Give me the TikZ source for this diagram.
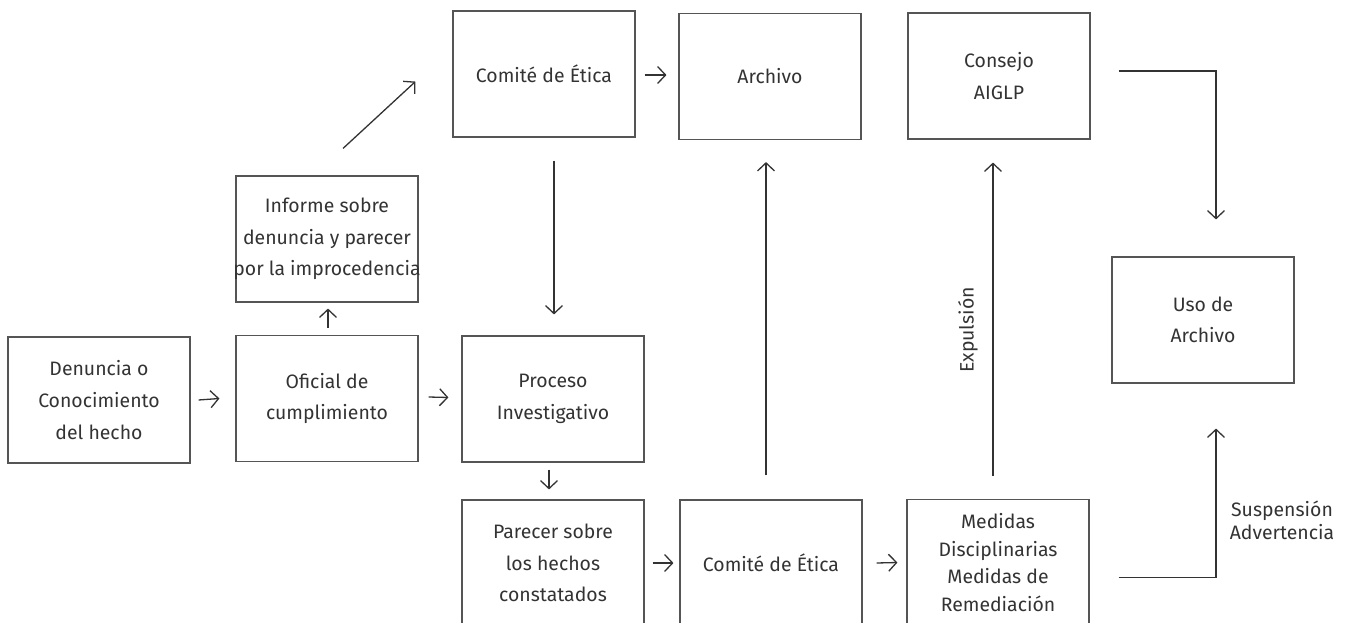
\documentclass[tikz,border=0pt]{standalone}
\usepackage{fontspec}
\setmainfont{Fira Sans}
\usetikzlibrary{arrows.meta}
\definecolor{ink}{HTML}{333333}
\definecolor{edgegray}{HTML}{555555}
\begin{document}
\begin{tikzpicture}[x=1bp,y=-1bp,
  box/.style={draw=edgegray, line width=1.1bp, minimum width=182bp, minimum height=126bp,
    inner sep=0pt, align=center, text=ink, font=\fontsize{19.5}{31.7}\selectfont},
  arr/.style={draw=ink, line width=1.3bp, -{Straight Barb[length=8bp,width=17bp]}},
  lbl/.style={text=ink, align=center, font=\fontsize{19.5}{23}\selectfont, inner sep=0pt}]
\useasboundingbox (0,0) rectangle (1349,623);
% nodes
\node[box] (den) at (99,400) {Denuncia o\\Conocimiento\\del hecho};
\node[box] (ofi) at (327,398.5) {Oficial de\\cumplimiento};
\node[box] (inf) at (327,239) {Informe sobre\\denuncia y parecer\\\makebox[176bp]{por la improcedencia}};
\node[box] (pro) at (553,399) {Proceso\\Investigativo};
\node[box] (par) at (553,563) {Parecer sobre\\los hechos\\constatados};
\node[box] (com2) at (771,563) {Comité de Ética};
\node[box, font=\fontsize{19.5}{28}\selectfont] (med) at (998,562.5) {Medidas\\Disciplinarias\\Medidas de\\Remediación};
\node[box] (com1) at (544,74) {Comité de Ética};
\node[box] (arc) at (770,76.5) {Archivo};
\node[box] (con) at (999,76) {Consejo\\AIGLP};
\node[box] (uso) at (1203,320) {Uso de\\Archivo};
\node[lbl, rotate=90] (exp) at ([shift={(-30,-169)}]med.north) {Expulsión};
\node[lbl] (sus) at (1282,520) {Suspensión\\Advertencia};
% connectors
\draw[arr] ([shift={(8,0)}]den.east) -- ([shift={(-16,0)}]ofi.west);
\draw[arr] ([shift={(10,-1.5)}]ofi.east) -- ([shift={(-13,-1.5)}]pro.west);
\draw[arr] ([shift={(1,-7)}]ofi.north) -- ([shift={(1,6)}]inf.south);
\draw[arr] ([shift={(16,-27)}]inf.north) -- ([shift={(-37,-56)}]com1.south west);
\draw[arr] ([shift={(10,23)}]com1.south) -- ([shift={(1,-21)}]pro.north);
\draw[arr] ([shift={(9,1)}]com1.east) -- ([shift={(-12,-1.5)}]arc.west);
\draw[arr] ([shift={(-4,7)}]pro.south) -- ([shift={(-4,-10)}]par.north);
\draw[arr] ([shift={(8,0)}]par.east) -- ([shift={(-6,0)}]com2.west);
\draw[arr] ([shift={(14,0)}]com2.east) -- ([shift={(-9,0)}]med.west);
\draw[arr] ([shift={(-5,-24)}]com2.north) -- ([shift={(-4,22)}]arc.south);
\draw[arr] ([shift={(-5,-23)}]med.north) -- ([shift={(-6,23)}]con.south);
\draw[arr] ([shift={(28,-5)}]con.east) -| ([shift={(13,-37)}]uso.north);
\draw[arr] ([shift={(29,15)}]med.east) -| ([shift={(13,45)}]uso.south);
\end{tikzpicture}
\end{document}
